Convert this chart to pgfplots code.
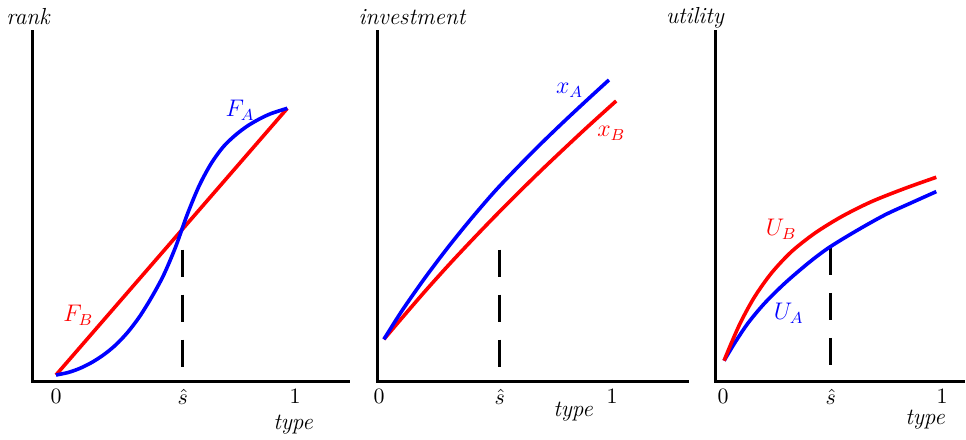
\documentclass[border=0pt]{standalone}
\usepackage{pgfplots}
\pgfplotsset{compat=1.18}
\tikzset{lab/.style={font=\fontsize{11.5}{13}\selectfont}}
\begin{document}
\begin{tikzpicture}
\path[use as bounding box] (0pt,0pt) rectangle (483pt,220pt);
\pgfplotsset{
  myax/.style={
    scale only axis, axis lines=left,
    axis line style={-, line width=1.5pt, line cap=rect},
    ymin=0, ymax=1, ytick=\empty, major tick length=0pt,
    xticklabel style={yshift=0pt, font=\fontsize{10.5}{12}\selectfont},
    clip=false, anchor=south west, height=175pt,
  },
  dsh/.style={black, line width=1.5pt, dash pattern=on 13.5pt off 9pt},
}
% ---------- panel 1: rank ----------
\begin{axis}[myax, at={(16.5pt,29pt)}, width=158pt,
  xmin=-0.0962, xmax=1.226,
  xtick={0,0.53,1}, xticklabels={$0$,$\hat{s}$,$1$}]
\addplot[dsh] coordinates {(0.53,0.378) (0.53,0.04)};
\addplot[red, line width=1.8pt] coordinates {(0,0.02) (0.968,0.782)};
\addplot[blue, line width=1.8pt, smooth] coordinates {
 (0,0.020) (0.05,0.027) (0.10,0.039) (0.15,0.056) (0.20,0.078)
 (0.25,0.106) (0.30,0.142) (0.35,0.187) (0.40,0.242) (0.45,0.305)
 (0.50,0.385) (0.55,0.480) (0.60,0.562) (0.65,0.625) (0.70,0.672)
 (0.75,0.705) (0.80,0.731) (0.85,0.751) (0.90,0.767) (0.968,0.782)};
\node[blue, lab] at (axis cs:0.77,0.777) {$F_A$};
\node[red, lab] at (axis cs:0.093,0.191) {$F_B$};
\end{axis}
% ---------- panel 2: investment ----------
\begin{axis}[myax, at={(188.5pt,29pt)}, width=155pt,
  xmin=-0.0086, xmax=1.322,
  xtick={0,0.518,1}, xticklabels={$0$,$\hat{s}$,$1$}]
\addplot[dsh] coordinates {(0.518,0.378) (0.518,0.04)};
\addplot[red, line width=1.8pt, smooth] coordinates {
 (0.021,0.122) (0.1,0.184) (0.2,0.261) (0.3,0.335) (0.4,0.406)
 (0.5,0.475) (0.6,0.542) (0.7,0.607) (0.8,0.670) (0.9,0.732) (1.018,0.803)};
\addplot[blue, line width=1.8pt, smooth] coordinates {
 (0.021,0.122) (0.1,0.205) (0.2,0.300) (0.3,0.388) (0.4,0.470)
 (0.5,0.547) (0.6,0.617) (0.7,0.684) (0.8,0.748) (0.9,0.810) (0.987,0.863)};
\node[blue, lab] at (axis cs:0.818,0.834) {$x_A$};
\node[red, lab] at (axis cs:0.997,0.711) {$x_B$};
\end{axis}
% ---------- panel 3: utility ----------
\begin{axis}[myax, at={(357.5pt,29pt)}, width=124pt,
  xmin=-0.0365, xmax=1.096,
  xtick={0,0.492,1}, xticklabels={$0$,$\hat{s}$,$1$}]
\addplot[dsh] coordinates {(0.492,0.383) (0.492,0.04)};
\addplot[blue, line width=1.8pt, smooth] coordinates {
 (0.005,0.061) (0.053,0.111) (0.114,0.168) (0.19,0.225) (0.282,0.282)
 (0.388,0.339) (0.479,0.382) (0.601,0.429) (0.738,0.477) (0.86,0.512)
 (0.974,0.544)};
\addplot[red, line width=1.8pt, smooth] coordinates {
 (0.005,0.061) (0.038,0.111) (0.084,0.175) (0.145,0.244) (0.221,0.311)
 (0.312,0.372) (0.419,0.425) (0.54,0.472) (0.677,0.515) (0.83,0.553)
 (0.974,0.585)};
\node[red, lab] at (axis cs:0.266,0.436) {$U_B$};
\node[blue, lab] at (axis cs:0.30,0.196) {$U_A$};
\end{axis}
% ---------- titles and axis names ----------
\begin{scope}[font=\fontsize{11.6}{13}\selectfont\itshape]
\node at (14pt,211.5pt) {rank};
\node at (206pt,211.5pt) {investment};
\node at (347.5pt,211pt) {utility};
\node at (146.5pt,7.5pt) {type};
\node at (286.5pt,14pt) {type};
\node at (462.5pt,10pt) {type};
\end{scope}
\end{tikzpicture}
\end{document}
